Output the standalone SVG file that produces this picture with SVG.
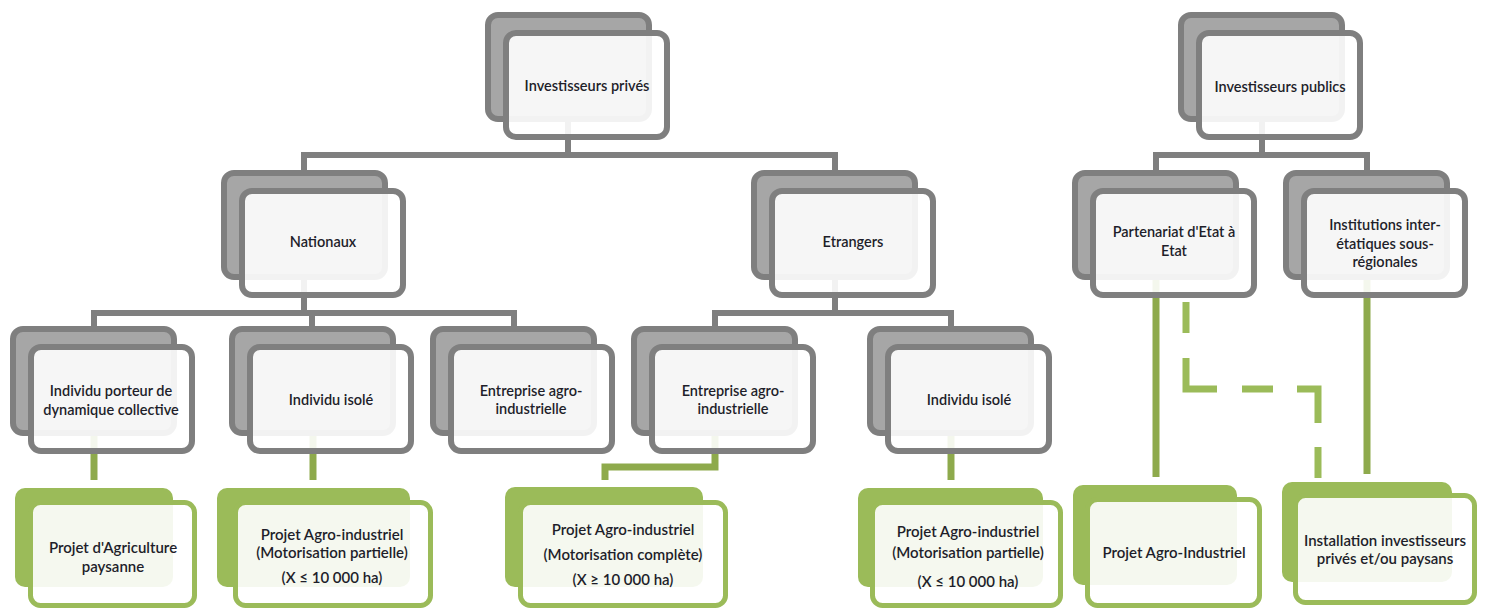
<svg xmlns="http://www.w3.org/2000/svg" width="1485" height="612" viewBox="0 0 1485 612">
<style>
.gb{fill:#a6a6a6;stroke:#7f7f7f;stroke-width:6}
.gf{fill:#ffffff;fill-opacity:0.9;stroke:#7f7f7f;stroke-width:6}
.eb{fill:#9bbb59}
.ef{fill:#ffffff;fill-opacity:0.9;stroke:#9bbb59;stroke-width:5}
.gc{fill:none;stroke:#7f7f7f;stroke-width:6}
.ec{fill:none;stroke:#8eaa4c;stroke-width:7}
.ed{fill:none;stroke:#9bbb59;stroke-width:7;stroke-dasharray:31 25 62 25 31 24 55 24 31 30}
text{font-family:Lato,"Liberation Sans",sans-serif;font-size:14.5px;font-weight:600;fill:#1e1e2a;text-anchor:middle}
.t2{font-size:15px}
</style>
<rect width="1485" height="612" fill="#ffffff"/>
<g id="connectors">
<path class="gc" d="M568,122 V155 M304,172 V155 H835 V172"/>
<path class="gc" d="M1262,122 V155 M1156,172 V155 H1367 V172"/>
<path class="gc" d="M304,280 V313 M94,328 V313 H514 V328 M312,313 V328"/>
<path class="gc" d="M835,280 V313 M715,328 V313 H951 V328"/>
<path class="ec" d="M94,436 V480"/>
<path class="ec" d="M313,436 V480"/>
<path class="ec" d="M715,436 V467 H605 V480"/>
<path class="ec" d="M951,436 V480"/>
<path class="ec" d="M1156,278 V477"/>
<path class="ec" d="M1367,278 V474"/>
<path class="ed" d="M1186,302 V389 H1318 V478"/>
</g>
<g id="n-prives">
<rect class="gb" x="488" y="15" width="161" height="104" rx="10"/>
<rect class="gf" x="506" y="33" width="161" height="104" rx="10"/>
<text x="587" y="91">Investisseurs privés</text>
</g>
<g id="n-publics">
<rect class="gb" x="1181" y="15" width="161" height="104" rx="10"/>
<rect class="gf" x="1199" y="33" width="161" height="104" rx="10"/>
<text x="1280" y="91.5">Investisseurs publics</text>
</g>
<g id="n-nationaux">
<rect class="gb" x="224" y="173" width="161" height="104" rx="10"/>
<rect class="gf" x="242" y="191" width="161" height="104" rx="10"/>
<text x="323" y="247">Nationaux</text>
</g>
<g id="n-etrangers">
<rect class="gb" x="754" y="173" width="161" height="104" rx="10"/>
<rect class="gf" x="772" y="191" width="161" height="104" rx="10"/>
<text x="853" y="247">Etrangers</text>
</g>
<g id="n-partenariat">
<rect class="gb" x="1075" y="173" width="161" height="104" rx="10"/>
<rect class="gf" x="1093" y="191" width="161" height="104" rx="10"/>
<text x="1174" y="237">Partenariat d'Etat à</text>
<text x="1174" y="256">Etat</text>
</g>
<g id="n-institutions">
<rect class="gb" x="1286" y="173" width="161" height="104" rx="10"/>
<rect class="gf" x="1304" y="191" width="161" height="104" rx="10"/>
<text x="1385" y="230">Institutions inter-</text>
<text x="1385" y="248.5">étatiques sous-</text>
<text x="1385" y="267">régionales</text>
</g>
<g id="n-porteur">
<rect class="gb" x="13" y="329" width="161" height="104" rx="10"/>
<rect class="gf" x="31" y="347" width="161" height="104" rx="10"/>
<text x="111" y="395.5">Individu porteur de</text>
<text x="111" y="414.5">dynamique collective</text>
</g>
<g id="n-isole-nat">
<rect class="gb" x="232" y="329" width="161" height="104" rx="10"/>
<rect class="gf" x="250" y="347" width="161" height="104" rx="10"/>
<text x="331" y="405">Individu isolé</text>
</g>
<g id="n-entreprise-nat">
<rect class="gb" x="433" y="329" width="161" height="104" rx="10"/>
<rect class="gf" x="451" y="347" width="161" height="104" rx="10"/>
<text x="531" y="396">Entreprise agro-</text>
<text x="531" y="414">industrielle</text>
</g>
<g id="n-entreprise-etr">
<rect class="gb" x="634" y="329" width="161" height="104" rx="10"/>
<rect class="gf" x="652" y="347" width="161" height="104" rx="10"/>
<text x="733" y="396">Entreprise agro-</text>
<text x="733" y="414">industrielle</text>
</g>
<g id="n-isole-etr">
<rect class="gb" x="870" y="329" width="161" height="104" rx="10"/>
<rect class="gf" x="888" y="347" width="161" height="104" rx="10"/>
<text x="969" y="405">Individu isolé</text>
</g>
<g id="p-agriculture">
<rect class="eb" x="15" y="488" width="158" height="99" rx="10"/>
<rect class="ef" x="30.5" y="502.5" width="164" height="103" rx="10"/>
<text class="t2" x="113" y="553">Projet d'Agriculture</text>
<text class="t2" x="113" y="571.5">paysanne</text>
</g>
<g id="p-agro-nat">
<rect class="eb" x="217" y="488" width="193" height="99" rx="10"/>
<rect class="ef" x="235.5" y="502.5" width="195" height="103" rx="10"/>
<text class="t2" x="332" y="540">Projet Agro-industriel</text>
<text class="t2" x="332" y="558">(Motorisation partielle)</text>
<text class="t2" x="332" y="583">(X ≤ 10 000 ha)</text>
</g>
<g id="p-agro-complete">
<rect class="eb" x="505" y="487" width="198" height="100" rx="10"/>
<rect class="ef" x="520.5" y="502.5" width="205" height="103" rx="10"/>
<text class="t2" x="623" y="535">Projet Agro-industriel</text>
<text class="t2" x="623" y="560">(Motorisation complète)</text>
<text class="t2" x="623" y="585">(X ≥ 10 000 ha)</text>
</g>
<g id="p-agro-etr">
<rect class="eb" x="858" y="488" width="185" height="99" rx="10"/>
<rect class="ef" x="872.5" y="502.5" width="188" height="103" rx="10"/>
<text class="t2" x="968" y="537">Projet Agro-industriel</text>
<text class="t2" x="968" y="557.5">(Motorisation partielle)</text>
<text class="t2" x="968" y="586.5">(X ≤ 10 000 ha)</text>
</g>
<g id="p-agro-public">
<rect class="eb" x="1073" y="485" width="164" height="100" rx="10"/>
<rect class="ef" x="1087.5" y="499.5" width="172" height="106" rx="10"/>
<text class="t2" x="1174" y="558">Projet Agro-Industriel</text>
</g>
<g id="p-installation">
<rect class="eb" x="1282" y="482" width="170" height="100" rx="10"/>
<rect class="ef" x="1295.5" y="495.5" width="179" height="107" rx="10"/>
<text class="t2" x="1385" y="546">Installation investisseurs</text>
<text class="t2" x="1385" y="564">privés et/ou paysans</text>
</g>
</svg>
